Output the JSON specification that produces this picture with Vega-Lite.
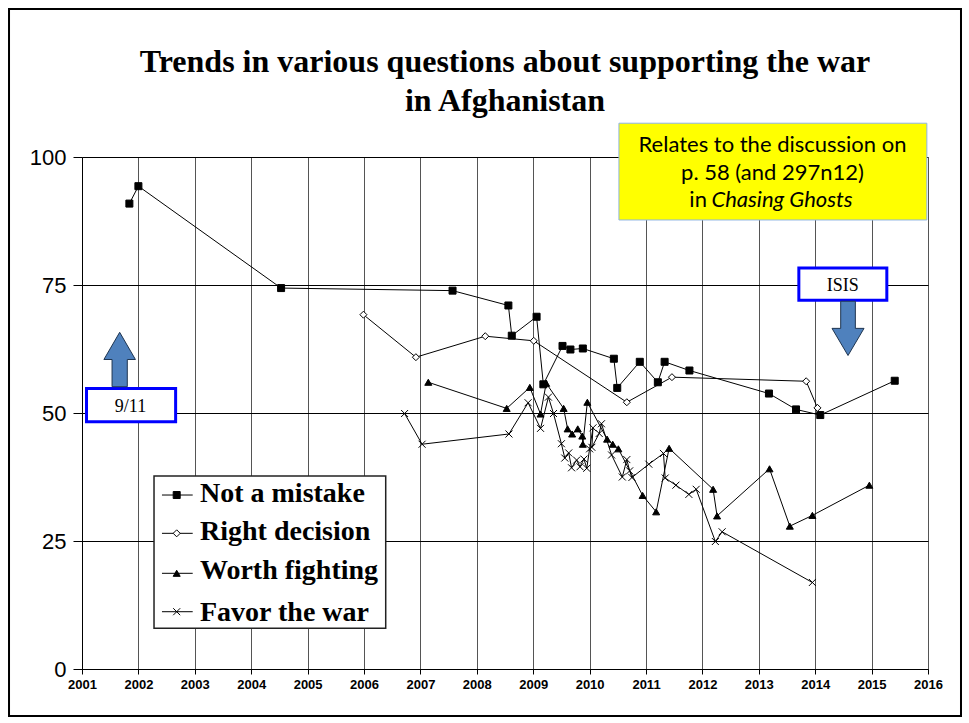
{
  "$schema": "https://vega.github.io/schema/vega-lite/v6.json",
  "width": 846,
  "height": 512,
  "autosize": {"type": "none"},
  "padding": {"left": 82, "top": 157, "right": 41, "bottom": 54},
  "background": "white",
  "config": {
    "view": {"stroke": null},
    "axis": {"title": null}
  },
  "datasets": {
    "series": [
      {"s": "Not a mistake", "i": 1, "x": 2001.84, "y": 90.9},
      {"s": "Not a mistake", "i": 2, "x": 2002.0, "y": 94.3},
      {"s": "Not a mistake", "i": 3, "x": 2004.53, "y": 74.4},
      {"s": "Not a mistake", "i": 4, "x": 2007.57, "y": 73.9},
      {"s": "Not a mistake", "i": 5, "x": 2008.56, "y": 71.0},
      {"s": "Not a mistake", "i": 6, "x": 2008.62, "y": 65.1},
      {"s": "Not a mistake", "i": 7, "x": 2009.06, "y": 68.8},
      {"s": "Not a mistake", "i": 8, "x": 2009.18, "y": 55.6},
      {"s": "Not a mistake", "i": 9, "x": 2009.52, "y": 63.1},
      {"s": "Not a mistake", "i": 10, "x": 2009.66, "y": 62.4},
      {"s": "Not a mistake", "i": 11, "x": 2009.88, "y": 62.6},
      {"s": "Not a mistake", "i": 12, "x": 2010.43, "y": 60.6},
      {"s": "Not a mistake", "i": 13, "x": 2010.49, "y": 54.9},
      {"s": "Not a mistake", "i": 14, "x": 2010.89, "y": 60.0},
      {"s": "Not a mistake", "i": 15, "x": 2011.21, "y": 56.0},
      {"s": "Not a mistake", "i": 16, "x": 2011.33, "y": 60.0},
      {"s": "Not a mistake", "i": 17, "x": 2011.77, "y": 58.3},
      {"s": "Not a mistake", "i": 18, "x": 2013.18, "y": 53.8},
      {"s": "Not a mistake", "i": 19, "x": 2013.66, "y": 50.7},
      {"s": "Not a mistake", "i": 20, "x": 2014.09, "y": 49.6},
      {"s": "Not a mistake", "i": 21, "x": 2015.41, "y": 56.3},
      {"s": "Right decision", "i": 1, "x": 2005.99, "y": 69.2},
      {"s": "Right decision", "i": 2, "x": 2006.92, "y": 60.9},
      {"s": "Right decision", "i": 3, "x": 2008.15, "y": 65.0},
      {"s": "Right decision", "i": 4, "x": 2009.01, "y": 64.1},
      {"s": "Right decision", "i": 5, "x": 2010.66, "y": 52.1},
      {"s": "Right decision", "i": 6, "x": 2011.46, "y": 57.0},
      {"s": "Right decision", "i": 7, "x": 2013.84, "y": 56.2},
      {"s": "Right decision", "i": 8, "x": 2014.04, "y": 51.0},
      {"s": "Worth fighting", "i": 1, "x": 2007.14, "y": 56.0},
      {"s": "Worth fighting", "i": 2, "x": 2008.53, "y": 50.9},
      {"s": "Worth fighting", "i": 3, "x": 2008.94, "y": 55.0},
      {"s": "Worth fighting", "i": 4, "x": 2009.13, "y": 49.8},
      {"s": "Worth fighting", "i": 5, "x": 2009.23, "y": 55.8},
      {"s": "Worth fighting", "i": 6, "x": 2009.54, "y": 50.9},
      {"s": "Worth fighting", "i": 7, "x": 2009.61, "y": 46.9},
      {"s": "Worth fighting", "i": 8, "x": 2009.69, "y": 45.9},
      {"s": "Worth fighting", "i": 9, "x": 2009.79, "y": 46.9},
      {"s": "Worth fighting", "i": 10, "x": 2009.87, "y": 45.5},
      {"s": "Worth fighting", "i": 11, "x": 2009.88, "y": 43.9},
      {"s": "Worth fighting", "i": 12, "x": 2009.96, "y": 52.1},
      {"s": "Worth fighting", "i": 13, "x": 2010.31, "y": 44.9},
      {"s": "Worth fighting", "i": 14, "x": 2010.41, "y": 43.9},
      {"s": "Worth fighting", "i": 15, "x": 2010.51, "y": 43.0},
      {"s": "Worth fighting", "i": 16, "x": 2010.94, "y": 33.9},
      {"s": "Worth fighting", "i": 17, "x": 2011.18, "y": 30.7},
      {"s": "Worth fighting", "i": 18, "x": 2011.41, "y": 43.1},
      {"s": "Worth fighting", "i": 19, "x": 2012.19, "y": 35.1},
      {"s": "Worth fighting", "i": 20, "x": 2012.26, "y": 29.9},
      {"s": "Worth fighting", "i": 21, "x": 2013.19, "y": 39.1},
      {"s": "Worth fighting", "i": 22, "x": 2013.55, "y": 27.9},
      {"s": "Worth fighting", "i": 23, "x": 2013.95, "y": 30.0},
      {"s": "Worth fighting", "i": 24, "x": 2014.96, "y": 35.9},
      {"s": "Favor the war", "i": 1, "x": 2006.72, "y": 49.9},
      {"s": "Favor the war", "i": 2, "x": 2007.03, "y": 43.9},
      {"s": "Favor the war", "i": 3, "x": 2008.57, "y": 45.9},
      {"s": "Favor the war", "i": 4, "x": 2008.91, "y": 52.0},
      {"s": "Favor the war", "i": 5, "x": 2009.13, "y": 47.0},
      {"s": "Favor the war", "i": 6, "x": 2009.27, "y": 53.1},
      {"s": "Favor the war", "i": 7, "x": 2009.36, "y": 49.9},
      {"s": "Favor the war", "i": 8, "x": 2009.50, "y": 44.0},
      {"s": "Favor the war", "i": 9, "x": 2009.56, "y": 41.2},
      {"s": "Favor the war", "i": 10, "x": 2009.63, "y": 42.2},
      {"s": "Favor the war", "i": 11, "x": 2009.68, "y": 39.3},
      {"s": "Favor the war", "i": 12, "x": 2009.77, "y": 40.8},
      {"s": "Favor the war", "i": 13, "x": 2009.83, "y": 39.5},
      {"s": "Favor the war", "i": 14, "x": 2009.90, "y": 41.0},
      {"s": "Favor the war", "i": 15, "x": 2009.95, "y": 39.2},
      {"s": "Favor the war", "i": 16, "x": 2010.00, "y": 43.0},
      {"s": "Favor the war", "i": 17, "x": 2010.06, "y": 47.1},
      {"s": "Favor the war", "i": 18, "x": 2010.04, "y": 43.3},
      {"s": "Favor the war", "i": 19, "x": 2010.17, "y": 46.0},
      {"s": "Favor the war", "i": 20, "x": 2010.21, "y": 47.9},
      {"s": "Favor the war", "i": 21, "x": 2010.39, "y": 41.8},
      {"s": "Favor the war", "i": 22, "x": 2010.58, "y": 37.5},
      {"s": "Favor the war", "i": 23, "x": 2010.66, "y": 40.9},
      {"s": "Favor the war", "i": 24, "x": 2010.71, "y": 38.7},
      {"s": "Favor the war", "i": 25, "x": 2010.75, "y": 37.4},
      {"s": "Favor the war", "i": 26, "x": 2011.05, "y": 40.0},
      {"s": "Favor the war", "i": 27, "x": 2011.31, "y": 42.1},
      {"s": "Favor the war", "i": 28, "x": 2011.34, "y": 37.3},
      {"s": "Favor the war", "i": 29, "x": 2011.53, "y": 35.9},
      {"s": "Favor the war", "i": 30, "x": 2011.76, "y": 34.1},
      {"s": "Favor the war", "i": 31, "x": 2011.89, "y": 35.1},
      {"s": "Favor the war", "i": 32, "x": 2012.23, "y": 24.9},
      {"s": "Favor the war", "i": 33, "x": 2012.35, "y": 26.8},
      {"s": "Favor the war", "i": 34, "x": 2013.95, "y": 16.9}
    ],
    "boxes": [
      {"b": "frame", "x": 1999.706, "x2": 2016.585, "y": 128.9, "y2": -9.2},
      {"b": "note", "x": 2010.52, "x2": 2015.98, "y": 106.6, "y2": 87.7},
      {"b": "event", "x": 2013.71, "x2": 2015.27, "y": 78.3, "y2": 72.0},
      {"b": "event", "x": 2001.08, "x2": 2002.66, "y": 54.8, "y2": 48.3},
      {"b": "legend", "x": 2002.277, "x2": 2006.385, "y": 37.7, "y2": 7.95}
    ],
    "texts": [
      {"k": "title", "t": "Trends in various questions about supporting the war", "x": 2008.5, "y": 116.66},
      {"k": "title", "t": "in Afghanistan", "x": 2008.5, "y": 109.04},
      {"k": "note", "t": "Relates to the discussion on", "x": 2013.243, "y": 100.99},
      {"k": "note", "t": "p. 58 (and 297n12)", "x": 2013.243, "y": 95.5},
      {"k": "noteIn", "t": "in", "x": 2012.08, "y": 90.17},
      {"k": "noteItalic", "t": "Chasing Ghosts", "x": 2012.16, "y": 90.17},
      {"k": "event", "t": "ISIS", "x": 2014.49, "y": 73.89},
      {"k": "event", "t": "9/11", "x": 2001.86, "y": 50.25}
    ],
    "arrows": [
      {"a": "up", "x": 2001.668, "y": 60.45},
      {"a": "down", "x": 2014.582, "y": 66.53}
    ],
    "legend": [
      {"s": "Not a mistake", "ys": 33.98, "yt": 32.62},
      {"s": "Right decision", "ys": 26.5, "yt": 25.2},
      {"s": "Worth fighting", "ys": 18.69, "yt": 17.58},
      {"s": "Favor the war", "ys": 11.19, "yt": 9.43}
    ]
  },
  "layer": [
    {
      "data": {"name": "series"},
      "mark": {"type": "line", "color": "black", "strokeWidth": 1},
      "encoding": {
        "x": {
          "field": "x", "type": "quantitative",
          "scale": {"domain": [2001, 2016], "nice": false, "zero": false},
          "axis": {
            "values": [2001, 2002, 2003, 2004, 2005, 2006, 2007, 2008, 2009, 2010, 2011, 2012, 2013, 2014, 2015, 2016],
            "format": "d",
            "labelFont": "Liberation Sans",
            "labelFontSize": 13,
            "labelFontWeight": "bold",
            "labelColor": "black",
            "labelPadding": 4,
            "labelFlush": false,
            "labelOverlap": false,
            "tickSize": 5,
            "tickColor": "black",
            "domainColor": "black",
            "domainWidth": 1,
            "grid": true,
            "gridColor": "#555555",
            "gridWidth": 1,
            "gridOpacity": 1
          }
        },
        "y": {
          "field": "y", "type": "quantitative",
          "scale": {"domain": [0, 100], "nice": false, "zero": false},
          "axis": {
            "values": [0, 25, 50, 75, 100],
            "labelFont": "Liberation Sans",
            "labelFontSize": 22,
            "labelColor": "black",
            "labelPadding": 7,
            "labelFlush": false,
            "tickSize": 9,
            "tickColor": "black",
            "domainColor": "black",
            "domainWidth": 1,
            "grid": true,
            "gridColor": "black",
            "gridWidth": 1,
            "gridOpacity": 1
          }
        },
        "detail": {"field": "s"},
        "order": {"field": "i", "type": "quantitative"}
      }
    },
    {
      "data": {"name": "series"},
      "mark": {"type": "point", "stroke": "black", "strokeWidth": 1, "opacity": 1},
      "encoding": {
        "x": {"field": "x", "type": "quantitative", "scale": {"domain": [2001, 2016], "nice": false, "zero": false}},
        "y": {"field": "y", "type": "quantitative", "scale": {"domain": [0, 100], "nice": false, "zero": false}},
        "shape": {
          "field": "s", "type": "nominal", "legend": null,
          "scale": {"domain": ["Not a mistake", "Right decision", "Worth fighting", "Favor the war"],
                    "range": ["square", "diamond", "triangle-up", "M-1,-1L1,1M1,-1L-1,1"]}
        },
        "fill": {
          "field": "s", "type": "nominal", "legend": null,
          "scale": {"domain": ["Not a mistake", "Right decision", "Worth fighting", "Favor the war"],
                    "range": ["black", "white", "black", "transparent"]}
        },
        "size": {
          "field": "s", "type": "nominal", "legend": null,
          "scale": {"domain": ["Not a mistake", "Right decision", "Worth fighting", "Favor the war"],
                    "range": [49, 49, 81, 72]}
        }
      }
    },
    {
      "data": {"name": "boxes"},
      "transform": [{"filter": "datum.b === 'frame'"}],
      "mark": {"type": "rect", "fill": null, "stroke": "black", "strokeWidth": 2},
      "encoding": {
        "x": {"field": "x", "type": "quantitative", "scale": {"domain": [2001, 2016], "nice": false, "zero": false}},
        "x2": {"field": "x2"},
        "y": {"field": "y", "type": "quantitative", "scale": {"domain": [0, 100], "nice": false, "zero": false}},
        "y2": {"field": "y2"}
      }
    },
    {
      "data": {"name": "boxes"},
      "transform": [{"filter": "datum.b === 'note'"}],
      "mark": {"type": "rect", "fill": "#FFFF00", "stroke": "#8EB4E3", "strokeWidth": 1},
      "encoding": {
        "x": {"field": "x", "type": "quantitative", "scale": {"domain": [2001, 2016], "nice": false, "zero": false}},
        "x2": {"field": "x2"},
        "y": {"field": "y", "type": "quantitative", "scale": {"domain": [0, 100], "nice": false, "zero": false}},
        "y2": {"field": "y2"}
      }
    },
    {
      "data": {"name": "boxes"},
      "transform": [{"filter": "datum.b === 'event'"}],
      "mark": {"type": "rect", "fill": "white", "stroke": "#0000FF", "strokeWidth": 3},
      "encoding": {
        "x": {"field": "x", "type": "quantitative", "scale": {"domain": [2001, 2016], "nice": false, "zero": false}},
        "x2": {"field": "x2"},
        "y": {"field": "y", "type": "quantitative", "scale": {"domain": [0, 100], "nice": false, "zero": false}},
        "y2": {"field": "y2"}
      }
    },
    {
      "data": {"name": "boxes"},
      "transform": [{"filter": "datum.b === 'legend'"}],
      "mark": {"type": "rect", "fill": "white", "stroke": "#222222", "strokeWidth": 1.5},
      "encoding": {
        "x": {"field": "x", "type": "quantitative", "scale": {"domain": [2001, 2016], "nice": false, "zero": false}},
        "x2": {"field": "x2"},
        "y": {"field": "y", "type": "quantitative", "scale": {"domain": [0, 100], "nice": false, "zero": false}},
        "y2": {"field": "y2"}
      }
    },
    {
      "data": {"name": "arrows"},
      "transform": [{"filter": "datum.a === 'up'"}],
      "mark": {"type": "point", "filled": true, "fill": "#4F81BD", "stroke": "#1F3550", "strokeWidth": 1, "opacity": 1, "size": 2959,
               "shape": "M0,-1L0.58,0L0.28,0L0.28,1L-0.28,1L-0.28,0L-0.58,0Z"},
      "encoding": {
        "x": {"field": "x", "type": "quantitative", "scale": {"domain": [2001, 2016], "nice": false, "zero": false}},
        "y": {"field": "y", "type": "quantitative", "scale": {"domain": [0, 100], "nice": false, "zero": false}}
      }
    },
    {
      "data": {"name": "arrows"},
      "transform": [{"filter": "datum.a === 'down'"}],
      "mark": {"type": "point", "filled": true, "fill": "#4F81BD", "stroke": "#1F3550", "strokeWidth": 1, "opacity": 1, "size": 2948,
               "shape": "M0,1L0.59,0L0.27,0L0.27,-1L-0.27,-1L-0.27,0L-0.59,0Z"},
      "encoding": {
        "x": {"field": "x", "type": "quantitative", "scale": {"domain": [2001, 2016], "nice": false, "zero": false}},
        "y": {"field": "y", "type": "quantitative", "scale": {"domain": [0, 100], "nice": false, "zero": false}}
      }
    },
    {
      "data": {"name": "texts"},
      "transform": [{"filter": "datum.k === 'title'"}],
      "mark": {"type": "text", "font": "Liberation Serif", "fontSize": 32, "fontWeight": "bold", "color": "black", "align": "center", "baseline": "alphabetic"},
      "encoding": {
        "x": {"field": "x", "type": "quantitative", "scale": {"domain": [2001, 2016], "nice": false, "zero": false}},
        "y": {"field": "y", "type": "quantitative", "scale": {"domain": [0, 100], "nice": false, "zero": false}},
        "text": {"field": "t"}
      }
    },
    {
      "data": {"name": "texts"},
      "transform": [{"filter": "datum.k === 'note'"}],
      "mark": {"type": "text", "font": "Lato", "fontSize": 22, "color": "black", "align": "center", "baseline": "alphabetic"},
      "encoding": {
        "x": {"field": "x", "type": "quantitative", "scale": {"domain": [2001, 2016], "nice": false, "zero": false}},
        "y": {"field": "y", "type": "quantitative", "scale": {"domain": [0, 100], "nice": false, "zero": false}},
        "text": {"field": "t"}
      }
    },
    {
      "data": {"name": "texts"},
      "transform": [{"filter": "datum.k === 'noteIn'"}],
      "mark": {"type": "text", "font": "Lato", "fontSize": 22, "color": "black", "align": "right", "baseline": "alphabetic"},
      "encoding": {
        "x": {"field": "x", "type": "quantitative", "scale": {"domain": [2001, 2016], "nice": false, "zero": false}},
        "y": {"field": "y", "type": "quantitative", "scale": {"domain": [0, 100], "nice": false, "zero": false}},
        "text": {"field": "t"}
      }
    },
    {
      "data": {"name": "texts"},
      "transform": [{"filter": "datum.k === 'noteItalic'"}],
      "mark": {"type": "text", "font": "Lato", "fontSize": 22, "fontStyle": "italic", "color": "black", "align": "left", "baseline": "alphabetic"},
      "encoding": {
        "x": {"field": "x", "type": "quantitative", "scale": {"domain": [2001, 2016], "nice": false, "zero": false}},
        "y": {"field": "y", "type": "quantitative", "scale": {"domain": [0, 100], "nice": false, "zero": false}},
        "text": {"field": "t"}
      }
    },
    {
      "data": {"name": "texts"},
      "transform": [{"filter": "datum.k === 'event'"}],
      "mark": {"type": "text", "font": "Liberation Serif", "fontSize": 18, "color": "black", "align": "center", "baseline": "alphabetic"},
      "encoding": {
        "x": {"field": "x", "type": "quantitative", "scale": {"domain": [2001, 2016], "nice": false, "zero": false}},
        "y": {"field": "y", "type": "quantitative", "scale": {"domain": [0, 100], "nice": false, "zero": false}},
        "text": {"field": "t"}
      }
    },
    {
      "data": {"name": "legend"},
      "mark": {"type": "rule", "color": "black", "strokeWidth": 1},
      "encoding": {
        "x": {"datum": 2002.418, "type": "quantitative", "scale": {"domain": [2001, 2016], "nice": false, "zero": false}},
        "x2": {"datum": 2002.963},
        "y": {"field": "ys", "type": "quantitative", "scale": {"domain": [0, 100], "nice": false, "zero": false}}
      }
    },
    {
      "data": {"name": "legend"},
      "mark": {"type": "point", "stroke": "black", "strokeWidth": 1, "opacity": 1},
      "encoding": {
        "x": {"datum": 2002.679, "type": "quantitative", "scale": {"domain": [2001, 2016], "nice": false, "zero": false}},
        "y": {"field": "ys", "type": "quantitative", "scale": {"domain": [0, 100], "nice": false, "zero": false}},
        "shape": {
          "field": "s", "type": "nominal", "legend": null,
          "scale": {"domain": ["Not a mistake", "Right decision", "Worth fighting", "Favor the war"],
                    "range": ["square", "diamond", "triangle-up", "M-1,-1L1,1M1,-1L-1,1"]}
        },
        "fill": {
          "field": "s", "type": "nominal", "legend": null,
          "scale": {"domain": ["Not a mistake", "Right decision", "Worth fighting", "Favor the war"],
                    "range": ["black", "white", "black", "transparent"]}
        },
        "size": {
          "field": "s", "type": "nominal", "legend": null,
          "scale": {"domain": ["Not a mistake", "Right decision", "Worth fighting", "Favor the war"],
                    "range": [25, 30, 49, 42]}
        }
      }
    },
    {
      "data": {"name": "legend"},
      "mark": {"type": "text", "font": "Liberation Serif", "fontSize": 28, "fontWeight": "bold", "color": "black", "align": "left", "baseline": "alphabetic"},
      "encoding": {
        "x": {"datum": 2003.092, "type": "quantitative", "scale": {"domain": [2001, 2016], "nice": false, "zero": false}},
        "y": {"field": "yt", "type": "quantitative", "scale": {"domain": [0, 100], "nice": false, "zero": false}},
        "text": {"field": "s"}
      }
    }
  ]
}
